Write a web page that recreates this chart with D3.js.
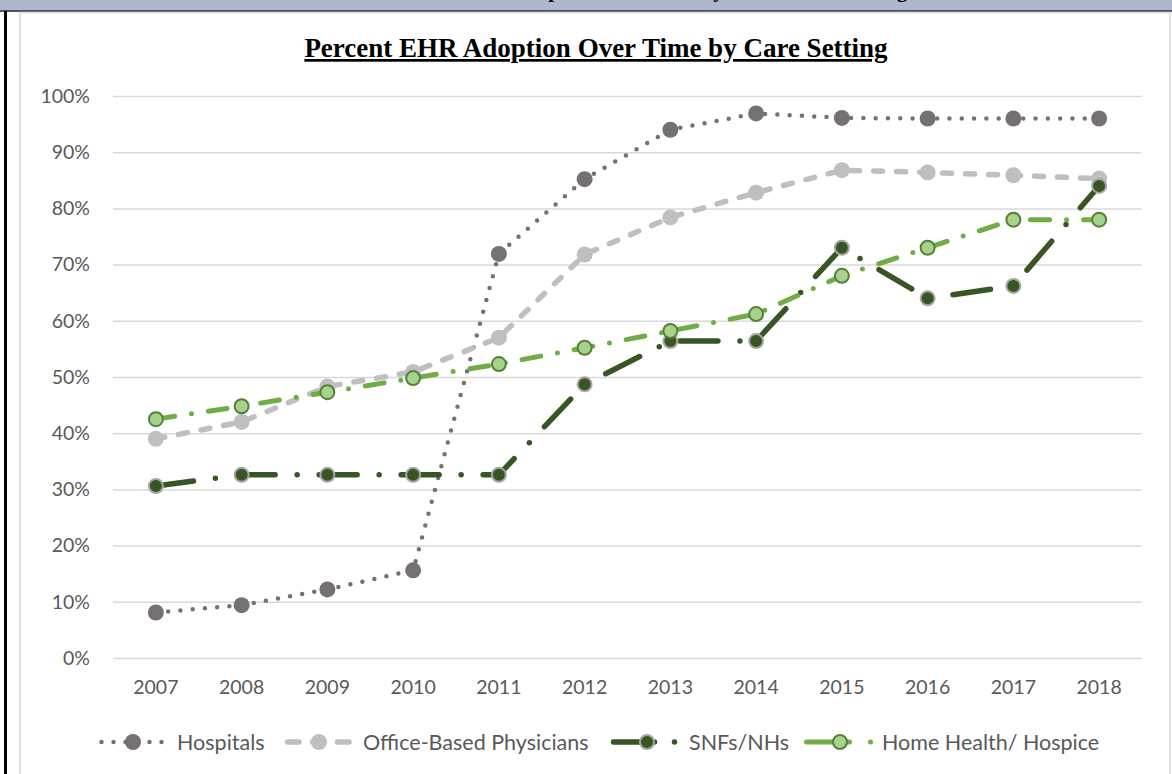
<!DOCTYPE html>
<html>
<head>
<meta charset="utf-8">
<script src="https://cdn.jsdelivr.net/npm/d3@7"></script>
<style>
  body { margin: 0; background: #fff; }
  svg { display: block; }
</style>
</head>
<body>
<svg width="1172" height="774"></svg>
<script>
var years = ["2007", "2008", "2009", "2010", "2011", "2012", "2013", "2014", "2015", "2016", "2017", "2018"];
var hospitals = [8.1, 9.4, 12.2, 15.6, 71.9, 85.2, 94.0, 96.9, 96.1, 96.0, 96.0, 96.0];
var officePhysicians = [39.0, 42.0, 48.3, 50.9, 57.0, 71.8, 78.4, 82.8, 86.8, 86.4, 85.9, 85.3];
var snfs = [30.6, 32.6, 32.6, 32.6, 32.6, 48.7, 56.4, 56.4, 73.0, 64.0, 66.2, 84.0];
var homeHealth = [42.5, 44.8, 47.3, 49.8, 52.3, 55.2, 58.2, 61.2, 68.0, 73.0, 78.0, 78.0];
var yTicks = [0, 10, 20, 30, 40, 50, 60, 70, 80, 90, 100];

var series = [
  {name: "Hospitals", values: hospitals, stroke: "#767171", width: 4.5, dash: "0 12.3", legendDash: "0 12",
   r: 8, fill: "#767171", mstroke: "none", mwidth: 0},
  {name: "Office-Based Physicians", values: officePhysicians, stroke: "#bfbfbf", width: 5.5, dash: "9 14", legendDash: "11.5 13.5",
   r: 8, fill: "#bfbfbf", mstroke: "none", mwidth: 0},
  {name: "SNFs/NHs", values: snfs, stroke: "#375623", width: 5.5, dash: "38 22 0 22", legendDash: "41 20 0 30",
   r: 7, fill: "#375623", mstroke: "#a6a6a6", mwidth: 2},
  {name: "Home Health/ Hospice", values: homeHealth, stroke: "#70ad47", width: 5, dash: "19 17 0 17", legendDash: "43 21 0 30",
   r: 7, fill: "#a9d18e", mstroke: "#548235", mwidth: 2}
];

var svg = d3.select("svg");
var font = "Lato, 'Open Sans', sans-serif";

// page frame bits (header band of the document, text cut off at the top)
svg.append("rect").attr("x", 0).attr("y", 0).attr("width", 1172).attr("height", 10.5).attr("fill", "#adb9ca");
svg.append("text")
  .attr("x", 601).attr("y", -3)
  .attr("text-anchor", "middle")
  .attr("font-family", "'Liberation Serif', serif")
  .attr("font-weight", "bold")
  .attr("font-size", 21)
  .text("Exhibit 1. Percent EHR Adoption Over Time by Health Care Setting");
svg.append("line").attr("x1", 0).attr("x2", 1172).attr("y1", 11).attr("y2", 11)
  .attr("stroke", "#1c2233").attr("stroke-width", 1.5);
svg.append("line").attr("x1", 5.5).attr("x2", 5.5).attr("y1", 11).attr("y2", 774)
  .attr("stroke", "#000").attr("stroke-width", 3);
svg.append("rect").attr("x", 20).attr("y", 12.5).attr("width", 1150).attr("height", 780)
  .attr("fill", "none").attr("stroke", "#d9d9d9").attr("stroke-width", 1.5);

// title
svg.append("text")
  .attr("x", 596).attr("y", 57)
  .attr("text-anchor", "middle")
  .attr("font-family", "'Liberation Serif', serif")
  .attr("font-weight", "bold")
  .attr("font-size", 27)
  .attr("text-decoration", "underline")
  .text("Percent EHR Adoption Over Time by Care Setting");

var plotLeft = 113, plotRight = 1142, plotTop = 96, plotBottom = 658;

var x = d3.scaleBand().domain(years).range([plotLeft, plotRight]);
var y = d3.scaleLinear().domain([0, 100]).range([plotBottom, plotTop]);

// gridlines
svg.append("g")
  .attr("transform", "translate(" + plotLeft + ",0)")
  .call(d3.axisLeft(y).tickValues(yTicks).tickSize(-(plotRight - plotLeft)).tickFormat(""))
  .call(function(g) { g.select(".domain").remove(); })
  .selectAll("line").attr("stroke", "#d9d9d9").attr("stroke-width", 1.5);

// y labels
svg.append("g")
  .attr("transform", "translate(" + plotLeft + ",0)")
  .call(d3.axisLeft(y).tickValues(yTicks).tickSize(0).tickPadding(23).tickFormat(function(d) { return d + "%"; }))
  .call(function(g) { g.select(".domain").remove(); })
  .selectAll("text")
  .attr("font-family", font).attr("font-size", 19.5).attr("fill", "#595959");

// x labels
svg.append("g")
  .attr("transform", "translate(0," + plotBottom + ")")
  .call(d3.axisBottom(x).tickSize(0).tickPadding(22))
  .call(function(g) { g.select(".domain").remove(); })
  .selectAll("text")
  .attr("font-family", font).attr("font-size", 19.5).attr("fill", "#595959");

var line = d3.line()
  .x(function(d, i) { return x(years[i]) + x.bandwidth() / 2; })
  .y(function(d) { return y(d); });

series.forEach(function(s) {
  svg.append("path")
    .datum(s.values)
    .attr("fill", "none")
    .attr("stroke", s.stroke)
    .attr("stroke-width", s.width)
    .attr("stroke-dasharray", s.dash)
    .attr("stroke-linecap", "round")
    .attr("stroke-linejoin", "round")
    .attr("d", line);
  svg.append("g").selectAll("circle")
    .data(s.values)
    .join("circle")
    .attr("cx", function(d, i) { return x(years[i]) + x.bandwidth() / 2; })
    .attr("cy", function(d) { return y(d); })
    .attr("r", s.r)
    .attr("fill", s.fill)
    .attr("stroke", s.mstroke)
    .attr("stroke-width", s.mwidth);
});

// legend
var legendX = [99, 285, 611, 804];
var legendY = 742;
series.forEach(function(s, i) {
  var g = svg.append("g").attr("transform", "translate(" + legendX[i] + "," + legendY + ")");
  g.append("line")
    .attr("x1", 2.5).attr("x2", 70)
    .attr("stroke", s.stroke)
    .attr("stroke-width", s.width)
    .attr("stroke-dasharray", s.legendDash)
    .attr("stroke-linecap", "round");
  g.append("circle")
    .attr("cx", i < 2 ? 34 : 36).attr("r", s.r)
    .attr("fill", s.fill).attr("stroke", s.mstroke).attr("stroke-width", s.mwidth);
  g.append("text")
    .attr("x", 78).attr("dy", "0.35em")
    .attr("font-family", font).attr("font-size", 21.5).attr("fill", "#595959")
    .text(s.name);
});
</script>
</body>
</html>
